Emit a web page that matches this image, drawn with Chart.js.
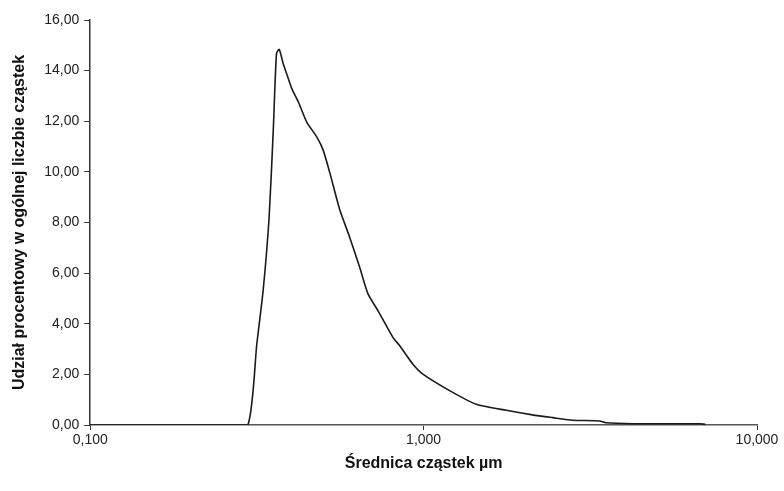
<!DOCTYPE html>
<html>
<head>
<meta charset="utf-8">
<script src="https://cdn.jsdelivr.net/npm/chart.js@4.4.0/dist/chart.umd.min.js"></script>
<style>
html,body{margin:0;padding:0;background:#fff;}
#wrap{width:784px;height:491px;position:relative;}
</style>
</head>
<body>
<div id="wrap"><canvas id="c" width="784" height="491"></canvas></div>
<script>
// Particle diameter (µm) and percentage share
const diameters = [0.100, 0.150, 0.200, 0.250, 0.297, 0.316, 0.330, 0.344, 0.354, 0.362, 0.369, 0.379, 0.388, 0.402, 0.421, 0.446, 0.478, 0.500, 0.524, 0.561, 0.600, 0.643, 0.681, 0.730, 0.809, 0.848, 0.929, 0.995, 1.20, 1.44, 1.77, 2.12, 2.44, 2.80, 3.37, 3.52, 4.24, 5.50, 6.70, 7.00];
const shares    = [0.00, 0.00, 0.00, 0.00, 0.00, 3.20, 5.30, 8.20, 11.64, 14.68, 14.84, 14.28, 13.89, 13.30, 12.76, 11.97, 11.38, 10.85, 9.93, 8.48, 7.42, 6.23, 5.18, 4.51, 3.46, 3.13, 2.40, 2.01, 1.35, 0.82, 0.58, 0.40, 0.29, 0.19, 0.16, 0.09, 0.05, 0.05, 0.05, 0.03];
const xTicks = [0.1, 1, 10];
const xTickLabels = ["0,100", "1,000", "10,000"];
const yTickLabels = ["0,00", "2,00", "4,00", "6,00", "8,00", "10,00", "12,00", "14,00", "16,00"];
const xTitle = "Średnica cząstek µm";
const yTitle = "Udział procentowy w ogólnej liczbie cząstek";

const points = diameters.map((d, i) => ({x: d, y: shares[i]}));

new Chart(document.getElementById('c'), {
  type: 'line',
  data: {
    datasets: [{
      data: points,
      borderColor: '#1a1a1a',
      borderWidth: 1.6,
      pointRadius: 0,
      tension: 0.2,
      fill: false
    }]
  },
  options: {
    responsive: false,
    animation: false,
    layout: {padding: {left: 10, right: 27, top: 20, bottom: 18}},
    plugins: {legend: {display: false}, tooltip: {enabled: false}},
    scales: {
      x: {
        type: 'logarithmic',
        min: 0.1,
        max: 10,
        afterBuildTicks: (scale) => { scale.ticks = xTicks.map(v => ({value: v})); },
        ticks: {
          autoSkip: false,
          maxRotation: 0,
          color: '#222',
          font: {family: 'Liberation Sans, Arial', size: 14},
          padding: 2,
          callback: (v) => { const i = xTicks.indexOf(v); return i >= 0 ? xTickLabels[i] : ''; }
        },
        grid: {display: true, drawOnChartArea: false, drawTicks: true, tickLength: 5, color: '#333'},
        border: {display: true, color: '#555', width: 1.5},
        title: {display: true, text: xTitle, color: '#111', font: {family: 'Liberation Sans, Arial', size: 16, weight: 'bold'}, padding: {top: 3, bottom: 0}}
      },
      y: {
        min: 0,
        max: 16,
        ticks: {
          stepSize: 2,
          color: '#222',
          font: {family: 'Liberation Sans, Arial', size: 14},
          padding: 5,
          callback: (v) => yTickLabels[Math.round(v / 2)]
        },
        grid: {display: true, drawOnChartArea: false, drawTicks: true, tickLength: 6, color: '#333'},
        border: {display: true, color: '#333', width: 1.5},
        title: {display: true, text: yTitle, color: '#111', font: {family: 'Liberation Sans, Arial', size: 16, weight: 'bold'}, padding: {top: 0, bottom: 10}}
      }
    }
  }
});
</script>
</body>
</html>
